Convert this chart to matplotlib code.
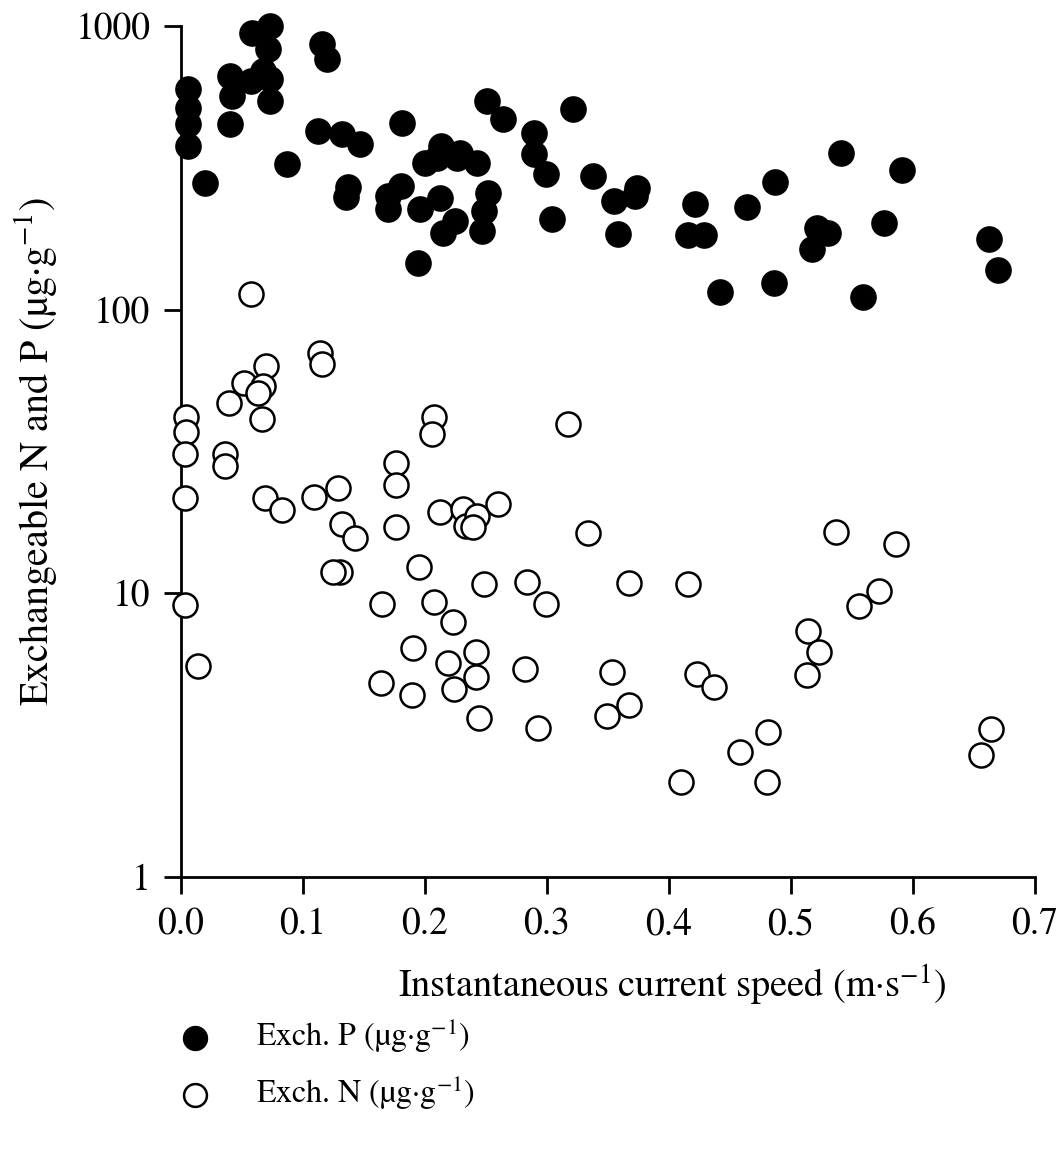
import matplotlib
matplotlib.use("Agg")
import matplotlib.pyplot as plt
import numpy as np

# Exchangeable P (filled) vs current speed
p_speed = [0.006, 0.006, 0.006, 0.006, 0.020, 0.040, 0.042, 0.040, 0.058, 0.073,
           0.071, 0.067, 0.057, 0.073, 0.073, 0.087, 0.116, 0.120, 0.112, 0.132,
           0.147, 0.137, 0.135, 0.181, 0.213, 0.226, 0.200, 0.210, 0.170, 0.170,
           0.180, 0.196, 0.212, 0.225, 0.215, 0.194, 0.251, 0.264, 0.289, 0.289,
           0.299, 0.321, 0.229, 0.243, 0.252, 0.248, 0.247, 0.304, 0.338, 0.355,
           0.374, 0.372, 0.358, 0.421, 0.416, 0.429, 0.442, 0.464, 0.487, 0.541,
           0.591, 0.521, 0.530, 0.517, 0.576, 0.486, 0.559, 0.662, 0.670]
p_value = [600, 514, 452, 378, 280, 667, 567, 452, 945, 1000,
           830, 695, 640, 650, 545, 327, 864, 765, 427, 417,
           384, 270, 250, 455, 378, 343, 329, 343, 252, 227,
           273, 227, 248, 206, 187, 146, 545, 471, 420, 354,
           301, 510, 357, 329, 258, 223, 190, 208, 296, 242,
           269, 252, 185, 236, 184, 184, 115, 231, 282, 357,
           311, 194, 187, 164, 202, 124, 111, 178, 138]

# Exchangeable N (open) vs current speed
n_speed = [0.057, 0.114, 0.116, 0.070, 0.052, 0.067, 0.063, 0.039, 0.066, 0.004,
           0.004, 0.003, 0.036, 0.036, 0.003, 0.069, 0.083, 0.207, 0.206, 0.176,
           0.176, 0.109, 0.129, 0.132, 0.143, 0.176, 0.212, 0.231, 0.234, 0.130,
           0.125, 0.195, 0.003, 0.014, 0.248, 0.165, 0.207, 0.223, 0.190, 0.242,
           0.219, 0.242, 0.164, 0.189, 0.224, 0.244, 0.317, 0.243, 0.239, 0.260,
           0.334, 0.284, 0.299, 0.367, 0.416, 0.282, 0.353, 0.423, 0.437, 0.367,
           0.349, 0.293, 0.458, 0.410, 0.537, 0.586, 0.572, 0.556, 0.514, 0.523,
           0.513, 0.481, 0.480, 0.664, 0.656]
n_value = [114, 70.6, 64.5, 63.5, 55.3, 54, 51, 46.7, 41.3, 41.7,
           36.9, 31.1, 31, 28, 21.6, 21.6, 19.6, 41.7, 36.3, 28.7,
           24, 21.8, 23.6, 17.6, 15.7, 17.1, 19.3, 19.9, 17.3, 11.9,
           11.9, 12.4, 9.08, 5.53, 10.8, 9.15, 9.3, 7.9, 6.4, 6.2,
           5.7, 5.06, 4.82, 4.37, 4.59, 3.63, 39.4, 18.8, 17.2, 20.7,
           16.3, 11.0, 9.15, 10.9, 10.8, 5.4, 5.27, 5.2, 4.67, 4.03,
           3.69, 3.35, 2.75, 2.16, 16.5, 14.9, 10.2, 9.0, 7.35, 6.2,
           5.14, 3.24, 2.16, 3.32, 2.69]

x_ticks = [0.0, 0.1, 0.2, 0.3, 0.4, 0.5, 0.6, 0.7]
y_ticks = [1, 10, 100, 1000]

matplotlib.rcParams['mathtext.fontset'] = 'stix'
matplotlib.rcParams['font.family'] = 'STIXGeneral'

fig = plt.figure(figsize=(10.59, 11.5), dpi=100)
ax = fig.add_axes([0.1709, 0.2374, 0.8064, 0.74])

ax.scatter(p_speed, p_value, s=330, c='black', edgecolors='black', linewidths=1.0,
           label='Exch. P (µg·g$^{-1}$)', clip_on=False, zorder=3)
ax.scatter(n_speed, n_value, s=300, facecolors='white', edgecolors='black', linewidths=1.8,
           label='Exch. N (µg·g$^{-1}$)', clip_on=False, zorder=3)

ax.set_yscale('log')
ax.set_xlim(0, 0.7)
ax.set_ylim(1, 1000)
ax.set_xticks(x_ticks)
ax.set_xticklabels([f"{t:.1f}" for t in x_ticks])
ax.set_yticks(y_ticks)
ax.set_yticklabels([str(t) for t in y_ticks])
ax.yaxis.set_minor_locator(matplotlib.ticker.NullLocator())

ax.spines['top'].set_visible(False)
ax.spines['right'].set_visible(False)
ax.spines['left'].set_linewidth(2)
ax.spines['bottom'].set_linewidth(2)
ax.tick_params(axis='both', direction='out', length=12, width=2, labelsize=27, pad=10)

ax.set_ylabel('Exchangeable N and P (µg·g$^{-1}$)', fontsize=29, labelpad=12)
fig.text(0.635, 0.1435, 'Instantaneous current speed (m·s$^{-1}$)', fontsize=27.5,
         ha='center', va='center')

fig.legend(loc='upper left', bbox_to_anchor=(0.127, 0.141), frameon=False,
           fontsize=23, labelspacing=0.6, handletextpad=0.9, markerscale=0.95)

fig.savefig('out.png', dpi=100)
